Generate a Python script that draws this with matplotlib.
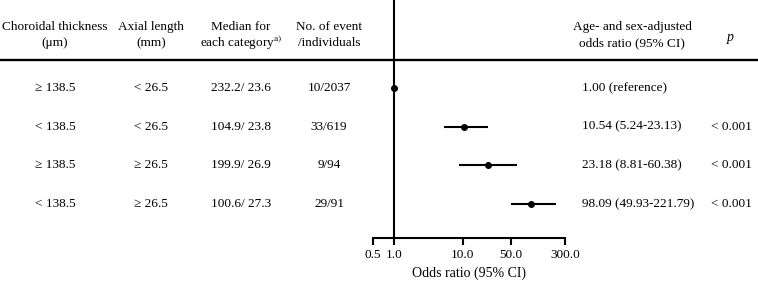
import matplotlib
matplotlib.use("Agg")
import matplotlib.pyplot as plt
import matplotlib.transforms as mtransforms
from matplotlib.lines import Line2D

plt.rcParams['font.family'] = ['Liberation Serif', 'DejaVu Serif']
plt.rcParams['mathtext.fontset'] = 'stix'

# table data
choroid = ["\u2265 138.5", "< 138.5", "\u2265 138.5", "< 138.5"]
axial = ["< 26.5", "< 26.5", "\u2265 26.5", "\u2265 26.5"]
medians = ["232.2/ 23.6", "104.9/ 23.8", "199.9/ 26.9", "100.6/ 27.3"]
events = ["10/2037", "33/619", "9/94", "29/91"]
or_text = ["1.00 (reference)", "10.54 (5.24-23.13)", "23.18 (8.81-60.38)", "98.09 (49.93-221.79)"]
p_text = ["", "< 0.001", "< 0.001", "< 0.001"]

# forest data
odds = [1.00, 10.54, 23.18, 98.09]
lower = [None, 5.24, 8.81, 49.93]
upper = [None, 23.13, 60.38, 221.79]
xticks = [0.5, 1.0, 10.0, 50.0, 300.0]

fig = plt.figure(figsize=(7.58, 2.86), dpi=100)
ax = fig.add_axes([373 / 758, 1 - 238 / 286, (565 - 373) / 758, 238 / 286])
ax.set_xscale('log')
ax.set_xlim(0.5, 300)
ax.set_ylim(3.88, -2.27)

fs = 9.5
for i in range(len(odds)):
    if lower[i] is not None:
        ax.plot([lower[i], upper[i]], [i, i], color='black', lw=1.5, solid_capstyle='butt')
    ax.plot(odds[i], i, 'o', color='black', ms=4)

ax.axvline(1.0, color='black', lw=1.5)

for s in ['left', 'right', 'top']:
    ax.spines[s].set_visible(False)
ax.spines['bottom'].set_linewidth(1.5)
ax.set_yticks([])
ax.set_xticks(xticks)
ax.set_xticklabels(["%.1f" % t for t in xticks], fontsize=fs)
ax.minorticks_off()
ax.tick_params(axis='x', direction='out', length=5, width=1.5, pad=3)
ax.set_xlabel("Odds ratio (95% CI)", fontsize=fs + 0.5, labelpad=4)

tr = mtransforms.blended_transform_factory(fig.transFigure, ax.transData)

# header line across the full width
fig.add_artist(Line2D([0, 1], [-0.72, -0.72], transform=tr, color='black', lw=1.7))

col_x = [55 / 758, 151 / 758, 241 / 758, 329 / 758]
headers = [("Choroidal thickness", "(\u03bcm)"),
           ("Axial length", "(mm)"),
           ("Median for", "each category$^{\\mathrm{a)}}$"),
           ("No. of event", "/individuals")]
for x, (h1, h2) in zip(col_x, headers):
    ax.text(x, -1.58, h1, transform=tr, ha='center', va='center', fontsize=fs, clip_on=False)
    ax.text(x, -1.16, h2, transform=tr, ha='center', va='center', fontsize=fs, clip_on=False)

ax.text(632 / 758, -1.58, "Age- and sex-adjusted", transform=tr, ha='center', va='center', fontsize=fs)
ax.text(632 / 758, -1.16, "odds ratio (95% CI)", transform=tr, ha='center', va='center', fontsize=fs)
ax.text(730 / 758, -1.29, "p", transform=tr, ha='center', va='center', fontsize=fs + 0.5, style='italic')

for i in range(len(odds)):
    for x, col in zip(col_x, [choroid, axial, medians, events]):
        ax.text(x, i, col[i], transform=tr, ha='center', va='center', fontsize=fs, clip_on=False)
    ax.text(582 / 758, i, or_text[i], transform=tr, ha='left', va='center', fontsize=fs)
    ax.text(711 / 758, i, p_text[i], transform=tr, ha='left', va='center', fontsize=fs)

fig.savefig("out.png", dpi=100)
